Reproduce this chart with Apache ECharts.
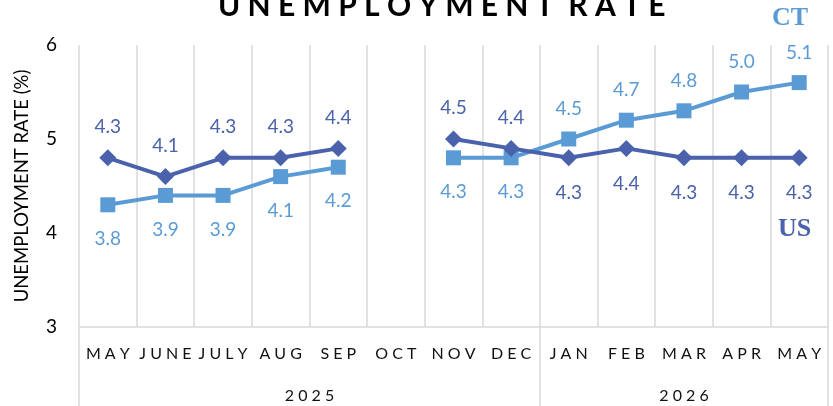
<!DOCTYPE html>
<html>
<head>
<meta charset="utf-8">
<script src="https://cdn.jsdelivr.net/npm/echarts@6/dist/echarts.min.js"></script>
<style>html,body{margin:0;padding:0;background:#fff}#c{width:833px;height:406px}</style>
</head>
<body>
<div id="c"></div>
<script>
// ---- data ----
const months = ['MAY','JUNE','JULY','AUG','SEP','OCT','NOV','DEC','JAN','FEB','MAR','APR','MAY'];
const years = ['2025','2026'];
const yearMonthCounts = [8, 5];
// plotted positions (read against the y axis)
const usValues = [4.8, 4.6, 4.8, 4.8, 4.9, null, 5.0, 4.9, 4.8, 4.9, 4.8, 4.8, 4.8];
const ctValues = [4.3, 4.4, 4.4, 4.6, 4.7, null, 4.8, 4.8, 5.0, 5.2, 5.3, 5.5, 5.6];
// printed data labels
const usLabels = ['4.3','4.1','4.3','4.3','4.4','', '4.5','4.4','4.3','4.4','4.3','4.3','4.3'];
const ctLabels = ['3.8','3.9','3.9','4.1','4.2','', '4.3','4.3','4.5','4.7','4.8','5.0','5.1'];
const yTicks = [3, 4, 5, 6];

// ---- helpers ----
const US_COLOR = '#4A62AC';
const CT_COLOR = '#5B9BD5';
const GRID_COLOR = '#D9D9D9';
const FONT = 'Lato, "Open Sans", sans-serif';

const yearBounds = [0];
yearMonthCounts.forEach(c => yearBounds.push(yearBounds[yearBounds.length - 1] + c));
const yearCenters = years.map((y, i) => (yearBounds[i] + yearBounds[i + 1]) / 2);

function spaced(s) { return s.split('').join(' '); }

function buildData(values, labels, aboveFn) {
  return values.map((v, i) => {
    const above = aboveFn(i);
    return {
      value: v,
      label: {
        position: above ? 'top' : 'bottom',
        distance: above ? 13 : 17,
        formatter: labels[i]
      }
    };
  });
}

const firstYearEnd = yearMonthCounts[0];
const usData = buildData(usValues, usLabels, i => i < firstYearEnd);
const ctData = buildData(ctValues, ctLabels, i => i >= firstYearEnd);

const chart = echarts.init(document.getElementById('c'), null, {renderer: 'canvas'});
chart.setOption({
  animation: false,
  backgroundColor: '#fff',
  title: {
    text: spaced('UNEMPLOYMENT') + '  ' + spaced('RATE'),
    left: 213,
    top: -14,
    textStyle: {fontFamily: FONT, fontWeight: 'bold', fontSize: 30, color: '#000'}
  },
  grid: {left: 79, right: 5, top: 45, bottom: 79, containLabel: false},
  xAxis: [
    {
      type: 'category',
      data: months,
      boundaryGap: true,
      axisLine: {show: true, lineStyle: {color: GRID_COLOR, width: 1.5}},
      axisTick: {show: false},
      splitLine: {show: true, lineStyle: {color: GRID_COLOR, width: 1.5}},
      axisLabel: {
        interval: 0, margin: 19, color: '#111', fontFamily: FONT, fontSize: 16,
        formatter: v => spaced(v)
      }
    },
    {
      type: 'value',
      position: 'bottom',
      min: 0, max: 13,
      axisLine: {show: false},
      splitLine: {show: false},
      axisTick: {
        show: true, customValues: yearBounds, length: 82, inside: false,
        lineStyle: {color: GRID_COLOR, width: 1.5}
      },
      axisLabel: {
        customValues: yearCenters, margin: 61, color: '#111', fontFamily: FONT, fontSize: 16,
        formatter: v => { const i = yearCenters.indexOf(v); return i >= 0 ? spaced(years[i]) : ''; }
      }
    }
  ],
  yAxis: {
    type: 'value',
    min: yTicks[0], max: yTicks[yTicks.length - 1], interval: 1,
    name: 'UNEMPLOYMENT RATE (%)',
    nameLocation: 'middle',
    nameGap: 47,
    nameTextStyle: {fontFamily: FONT, fontSize: 18.5, color: '#000'},
    axisLine: {show: false},
    axisTick: {show: false},
    splitLine: {show: false},
    axisLabel: {margin: 22, color: '#000', fontFamily: FONT, fontSize: 19}
  },
  series: [
    {
      name: 'US', type: 'line', data: usData, connectNulls: false,
      symbol: 'diamond', symbolSize: 17,
      lineStyle: {color: US_COLOR, width: 4},
      itemStyle: {color: US_COLOR},
      label: {show: true, color: US_COLOR, fontFamily: FONT, fontSize: 19},
      z: 3
    },
    {
      name: 'CT', type: 'line', data: ctData, connectNulls: false,
      symbol: 'rect', symbolSize: 15,
      lineStyle: {color: CT_COLOR, width: 4},
      itemStyle: {color: CT_COLOR},
      label: {show: true, color: CT_COLOR, fontFamily: FONT, fontSize: 19},
      z: 2
    }
  ],
  graphic: [
    {type: 'text', left: 772, top: 5, style: {text: 'CT', fill: CT_COLOR, font: 'bold 26px "Liberation Serif", serif'}},
    {type: 'text', left: 778, top: 216, style: {text: 'US', fill: US_COLOR, font: 'bold 26px "Liberation Serif", serif'}}
  ]
});
</script>
</body>
</html>
